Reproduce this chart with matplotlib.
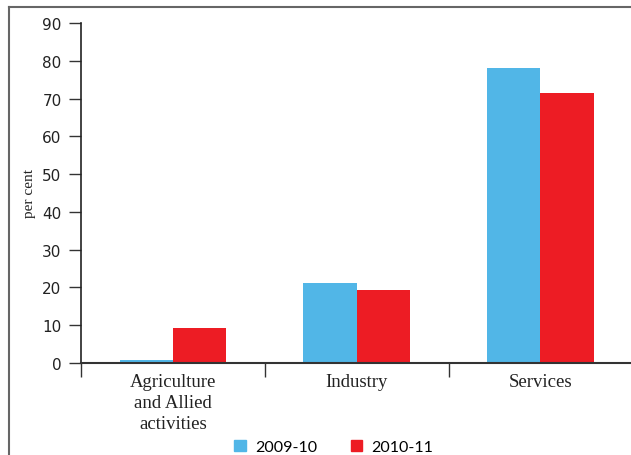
import matplotlib
matplotlib.use("Agg")
import matplotlib.pyplot as plt
from matplotlib.lines import Line2D
from matplotlib.patches import Rectangle
import numpy as np

categories = ["Agriculture\nand Allied\nactivities", "Industry", "Services"]
series_names = ["2009-10", "2010-11"]
values_2009 = [0.8, 21.2, 78.0]
values_2010 = [9.3, 19.3, 71.4]
colors = ["#51B6E7", "#ED1C24"]
yticks = [0, 10, 20, 30, 40, 50, 60, 70, 80, 90]

fig = plt.figure(figsize=(6.31, 4.56), dpi=100)
ax = fig.add_axes([81/631, 1-364/456, 1-81/631 + 0.002, (364-24)/456])

x = np.arange(len(categories))
w = 0.29
ax.bar(x - w/2, values_2009, width=w, color=colors[0], label=series_names[0])
ax.bar(x + w/2, values_2010, width=w, color=colors[1], label=series_names[1])

ax.set_xlim(-0.5, 2.5)
ax.set_ylim(0, 90)
ax.set_yticks(yticks)
ax.set_yticklabels([str(t) for t in yticks], fontsize=11, family="DejaVu Sans", color="#222222")

ax.set_xticks([-0.5, 0.5, 1.5, 2.5])
ax.set_xticklabels([])
ax.set_xticks(x, minor=True)
ax.set_xticklabels(categories, minor=True, family="Liberation Serif", fontsize=13.5, color="#222222", linespacing=1.33)
ax.tick_params(axis="x", which="minor", length=0, pad=7)
ax.tick_params(axis="x", which="major", direction="out", length=10, width=1, color="#333333")
ax.tick_params(axis="y", direction="out", length=9, width=1, color="#333333", pad=5)

for s in ["top", "right"]:
    ax.spines[s].set_visible(False)
ax.spines["left"].set_color("#222222")
ax.spines["left"].set_linewidth(1.2)
ax.spines["bottom"].set_color("#333333")
ax.spines["bottom"].set_linewidth(1.5)

ax.set_ylabel("per cent", family="Liberation Serif", fontsize=11, color="#222222", labelpad=4.5)

# legend
handles = [Rectangle((0, 0), 1, 1, color=c) for c in colors]
fig.legend(handles, series_names, loc="center", bbox_to_anchor=(334/631, 1-448/456),
           ncol=2, frameon=False, prop={"family": "Lato", "size": 11.5},
           handlelength=0.7, handleheight=0.7, handletextpad=0.6, columnspacing=2.1)

# figure border lines (top and left)
fig.add_artist(Line2D([8.5/631, 8.5/631], [0, 1-7.5/456], transform=fig.transFigure, color="#666666", lw=1.5))
fig.add_artist(Line2D([8.5/631, 1], [1-7.5/456, 1-7.5/456], transform=fig.transFigure, color="#666666", lw=1.5))

fig.savefig("out.png", dpi=100)
